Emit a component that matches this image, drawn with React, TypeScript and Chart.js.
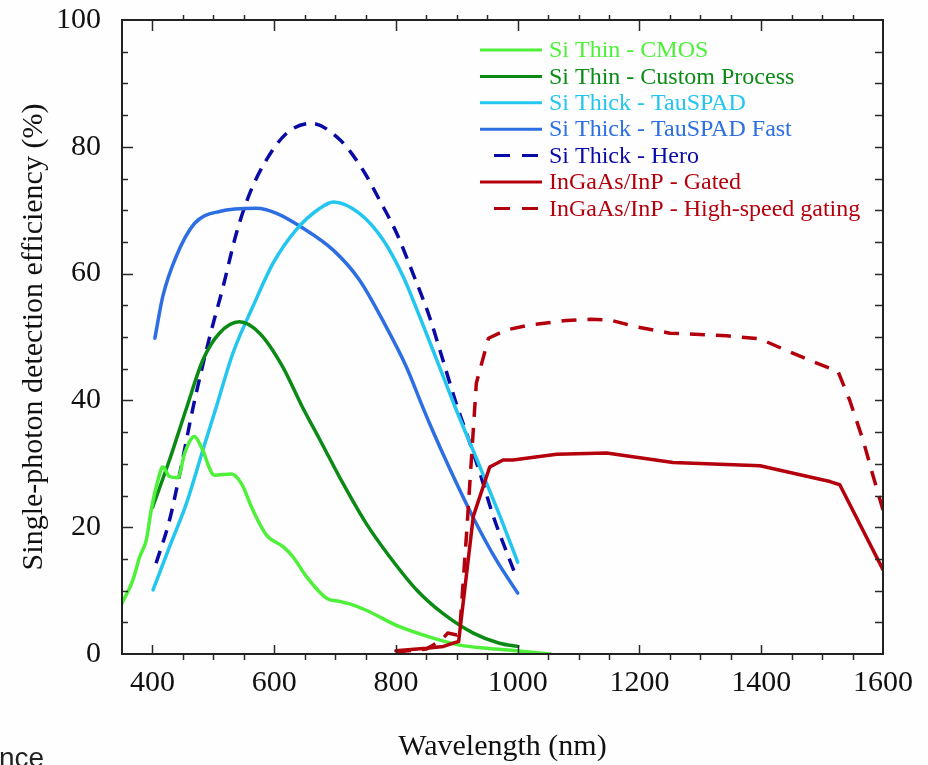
import React, { useEffect, useRef } from "react";
import { Chart, registerables } from "chart.js";

Chart.register(...registerables);

const X_MIN = 350;
const X_MAX = 1600;
const xTickValues = [400, 600, 800, 1000, 1200, 1400, 1600];
const yTickValues = [0, 20, 40, 60, 80, 100];

const seriesNames = [
  "Si Thin - CMOS",
  "Si Thin - Custom Process",
  "Si Thick - TauSPAD",
  "Si Thick - TauSPAD Fast",
  "Si Thick - Hero",
  "InGaAs/InP - Gated",
  "InGaAs/InP - High-speed gating",
];
const seriesColors = ["#4ef03a", "#0c8a16", "#22c6ef", "#2d6fe3", "#0a0aa6", "#b3000c", "#b3000c"];
const seriesDashed = [false, false, false, false, true, false, true];
const seriesSmooth = [true, true, true, true, true, false, false];

const cmosNm = [350, 368, 379, 390, 398, 409, 417, 428, 442, 453, 469, 480, 502, 530, 546, 565, 587, 615, 631, 653, 686, 707, 724, 751, 806, 861, 905, 949, 998, 1053];
const cmosEff = [8.0, 11.7, 15.3, 18.0, 22.7, 27.4, 29.5, 28.0, 27.8, 31.7, 34.3, 32.7, 28.2, 28.4, 26.9, 22.7, 18.8, 16.9, 15.3, 12.2, 8.8, 8.3, 7.9, 6.9, 4.3, 2.5, 1.4, 0.9, 0.5, 0.0];

const customNm = [400, 428, 456, 483, 510, 543, 576, 614, 645, 675, 713, 751, 790, 834, 877, 927, 970, 1000];
const customEff = [23.1, 30.6, 38.8, 46.4, 50.6, 52.4, 50.6, 45.3, 39.2, 33.8, 26.9, 20.6, 15.3, 10.1, 6.4, 3.3, 1.7, 1.2];

const tauNm = [401, 428, 456, 483, 505, 532, 565, 598, 636, 675, 697, 740, 779, 812, 839, 867, 897, 938, 971, 1000];
const tauEff = [10.1, 16.9, 23.8, 32.2, 39.0, 47.4, 54.8, 61.6, 66.9, 70.3, 71.3, 69.5, 65.3, 59.5, 53.2, 46.4, 39.0, 29.5, 21.7, 14.5];

const fastNm = [404, 417, 439, 469, 510, 571, 604, 645, 697, 740, 784, 817, 842, 855, 888, 927, 965, 1000];
const fastEff = [49.8, 56.4, 62.7, 67.9, 69.8, 70.3, 69.5, 67.3, 63.7, 59.0, 51.6, 45.3, 39.4, 36.4, 29.3, 21.5, 14.8, 9.6];

const heroNm = [406, 428, 445, 467, 494, 516, 538, 560, 587, 620, 660, 708, 746, 773, 801, 828, 855, 877, 899, 916, 938, 960, 995];
const heroEff = [14.3, 21.1, 28.5, 39.0, 50.0, 57.9, 66.4, 72.7, 77.9, 82.1, 83.7, 81.1, 76.3, 71.6, 66.4, 60.0, 53.2, 46.4, 39.5, 34.8, 28.5, 21.7, 12.8];

const gatedNm = [800, 850, 878, 903, 927, 954, 976, 992, 1064, 1146, 1255, 1398, 1513, 1529, 1600];
const gatedEff = [0.5, 0.9, 1.2, 2.0, 21.7, 29.5, 30.6, 30.6, 31.5, 31.7, 30.2, 29.7, 27.2, 26.7, 13.3];

const hsNm = [800, 850, 875, 885, 900, 905, 916, 932, 952, 981, 1020, 1080, 1120, 1151, 1195, 1250, 1343, 1398, 1441, 1485, 1526, 1545, 1567, 1584, 1600];
const hsEff = [0.3, 0.8, 2.2, 3.3, 3.0, 4.0, 19.0, 42.7, 49.8, 51.1, 51.9, 52.6, 52.8, 52.7, 51.6, 50.6, 50.2, 49.7, 47.9, 46.1, 44.6, 40.1, 33.8, 28.0, 22.7];

const seriesX = [cmosNm, customNm, tauNm, fastNm, heroNm, gatedNm, hsNm];
const seriesY = [cmosEff, customEff, tauEff, fastEff, heroEff, gatedEff, hsEff];

const FONT = "'Liberation Serif', 'Times New Roman', serif";

const framePlugin = {
  id: "frameTicks",
  afterDraw(chart: any) {
    const { ctx, chartArea: a, scales } = chart;
    const xs = scales.x;
    const ys = scales.y;
    ctx.save();
    ctx.strokeStyle = "#2a2a2a";
    ctx.lineWidth = 1.5;
    for (let v = X_MIN + 50; v < X_MAX; v += 50) {
      const px = Math.round(xs.getPixelForValue(v)) + 0.5;
      const major = v % 200 === 0;
      ctx.beginPath();
      if (major) {
        ctx.moveTo(px, a.bottom);
        ctx.lineTo(px, a.bottom - 9);
        ctx.moveTo(px, a.top);
        ctx.lineTo(px, a.top + 11);
      } else {
        ctx.moveTo(px, a.bottom);
        ctx.lineTo(px, a.bottom + 6);
        ctx.moveTo(px, a.top);
        ctx.lineTo(px, a.top - 5);
      }
      ctx.stroke();
    }
    for (let v = 5; v < 100; v += 5) {
      const py = Math.round(ys.getPixelForValue(v)) + 0.5;
      const major = v % 20 === 0;
      ctx.beginPath();
      ctx.moveTo(a.left, py);
      ctx.lineTo(a.left + (major ? 11 : 6), py);
      ctx.moveTo(a.right, py);
      ctx.lineTo(a.right - 8, py);
      ctx.stroke();
    }
    ctx.lineWidth = 2;
    ctx.strokeStyle = "#222";
    ctx.strokeRect(a.left, a.top, a.right - a.left, a.bottom - a.top);
    ctx.restore();
  },
};

const legendPlugin = {
  id: "insideLegend",
  afterDraw(chart: any) {
    const { ctx, chartArea: a } = chart;
    ctx.save();
    ctx.font = `24px ${FONT}`;
    ctx.textBaseline = "middle";
    ctx.textAlign = "left";
    chart.data.datasets.forEach((ds: any, i: number) => {
      const y = a.top + 30 + i * 26.4;
      ctx.strokeStyle = ds.borderColor;
      ctx.lineWidth = 3;
      ctx.beginPath();
      if (ds.borderDash && ds.borderDash.length) {
        ctx.setLineDash([16, 12]);
        ctx.moveTo(a.left + 372, y);
        ctx.lineTo(a.left + 418, y);
      } else {
        ctx.setLineDash([]);
        ctx.moveTo(a.left + 358, y);
        ctx.lineTo(a.left + 420, y);
      }
      ctx.stroke();
      ctx.setLineDash([]);
      ctx.fillStyle = ds.borderColor;
      ctx.fillText(ds.label, a.left + 427, y + 1);
    });
    ctx.restore();
  },
};

export default function App() {
  const canvasRef = useRef<HTMLCanvasElement | null>(null);

  useEffect(() => {
    const canvas = canvasRef.current;
    if (!canvas) return;
    Chart.defaults.font.family = FONT;

    const datasets = seriesNames.map((name, i) => ({
      label: name,
      data: seriesX[i].map((x, k) => ({ x, y: seriesY[i][k] })),
      borderColor: seriesColors[i],
      backgroundColor: seriesColors[i],
      borderWidth: 3.5,
      borderDash: seriesDashed[i] ? (i === 4 ? [13, 9] : [15, 11]) : [],
      borderCapStyle: seriesDashed[i] ? "butt" : "round",
      borderJoinStyle: "round",
      pointRadius: 0,
      fill: false,
      tension: seriesSmooth[i] ? 0.4 : 0,
      cubicInterpolationMode: seriesSmooth[i] ? "monotone" : "default",
      order: i >= 5 ? -1 : i,
    }));

    const chart = new Chart(canvas, {
      type: "line",
      data: { datasets },
      options: {
        responsive: false,
        animation: false,
        devicePixelRatio: 1,
        layout: { padding: { top: 20, right: 45, bottom: 0, left: 0 } },
        plugins: {
          legend: { display: false },
          tooltip: { enabled: false },
          title: { display: false },
        },
        scales: {
          x: {
            type: "linear",
            min: X_MIN,
            max: X_MAX,
            afterBuildTicks: (s: any) => {
              s.ticks = xTickValues.map((v) => ({ value: v }));
            },
            afterFit: (s: any) => {
              s.height = 111;
              s.paddingLeft = 0;
              s.paddingRight = 0;
            },
            grid: { display: false, drawTicks: false },
            border: { display: false },
            ticks: {
              autoSkip: false,
              maxRotation: 0,
              padding: 11,
              color: "#111",
              font: { size: 30, family: FONT },
              callback: (v: any) => String(v),
            },
            title: {
              display: true,
              text: "Wavelength (nm)",
              color: "#111",
              font: { size: 30, family: FONT },
              padding: { top: 0, bottom: 0 },
            },
          },
          y: {
            type: "linear",
            min: 0,
            max: 100,
            afterBuildTicks: (s: any) => {
              s.ticks = yTickValues.map((v) => ({ value: v }));
            },
            afterFit: (s: any) => {
              s.width = 122;
              s.paddingTop = 0;
              s.paddingBottom = 0;
            },
            grid: { display: false, drawTicks: false },
            border: { display: false },
            ticks: {
              padding: 21,
              color: "#111",
              font: { size: 30, family: FONT },
              callback: (v: any) => String(v),
            },
            title: {
              display: true,
              text: "Single-photon detection efficiency (%)",
              color: "#111",
              font: { size: 30, family: FONT },
              padding: { top: 16, bottom: 0 },
            },
          },
        },
      },
      plugins: [framePlugin, legendPlugin],
    } as any);

    return () => chart.destroy();
  }, []);

  return (
    <div
      style={{
        position: "fixed",
        left: 0,
        top: 0,
        width: 928,
        height: 765,
        overflow: "hidden",
        background: "#fefefe",
      }}
    >
      <canvas ref={canvasRef} width={928} height={765} style={{ display: "block" }} />
      <div
        style={{
          position: "absolute",
          left: -1,
          top: 744,
          fontFamily: "'Liberation Sans', Arial, sans-serif",
          fontSize: 28,
          lineHeight: "28px",
          color: "#222",
        }}
      >
        nce
      </div>
    </div>
  );
}
